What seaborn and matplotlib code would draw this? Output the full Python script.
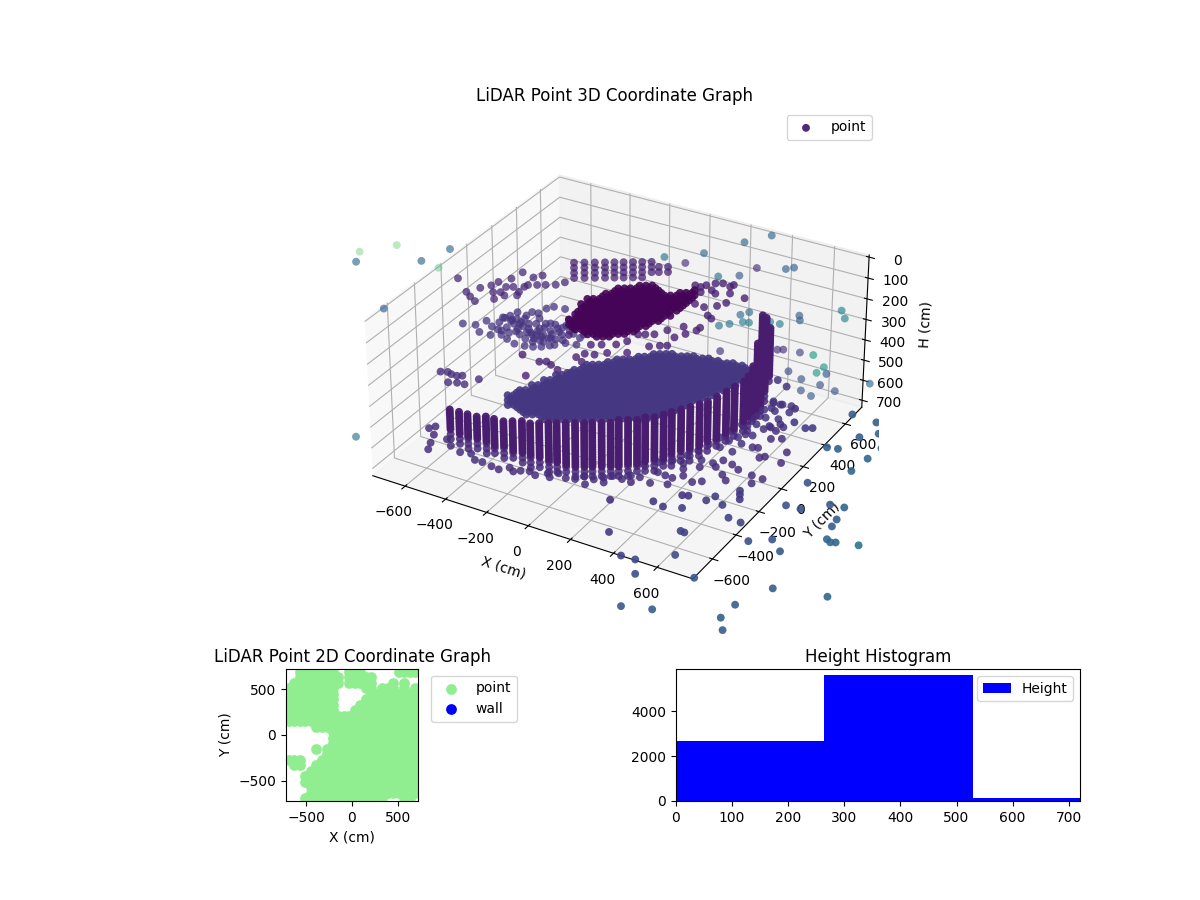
import numpy as np
import matplotlib
matplotlib.use("Agg")
import matplotlib.pyplot as plt
import seaborn as sns

# ── Scan geometry ────────────────────────────────────────────────────────
# points are kept as along-slice distance s, height h and slice offset d (cm)
BEAR_X = 0.855
BEAR_Y = 0.518
DRIFT_X = 0.47
DRIFT_Y = 0.883
LIFT = 0.47

SCAN_LAYERS = [-144, -120, -96, -72, -48, -24, 0, 24, 48, 72, 96, 120, 144, 168, 192, 216,
               240, 264, 288, 312, 336, 360, 384, 408, 432, 456, 480, 504, 528, 552, 576,
               600, 624, 648, 672, 696, 720, 744, 768, 792, 816, 840, 864, 888, 912, 936]
ALT_LAYERS = [-132, -108, -84, -60, -36, -12, 12, 36, 60, 84, 108, 132, 156, 180, 204, 228,
              252, 276, 300, 324, 348, 372, 396, 420, 444, 468, 492, 516, 540, 564, 588,
              612, 636, 660, 684, 708, 732, 756, 780, 804, 828, 852, 876, 900, 924]

# lower wall, one vertical sweep per entry: solid from TOP to MID, thinner foot down to BOT
FRONT_S = [-713, -675, -640, -602, -564, -530, -491, -453, -414, -380, -342, -303, -269,
           -231, -192, -154, -120, -81, -43, -9, 30, 68, 102, 141, 179, 213, 252, 290,
           329, 363, 401, 440, 474, 512, 530, 548, 565, 582, 598, 615]
FRONT_TOP = [550, 560, 569, 579, 588, 593, 603, 607, 612, 617, 617, 622, 622, 622, 622, 622,
             622, 617, 617, 612, 607, 603, 598, 593, 583, 574, 560, 546, 531, 517, 498,
             474, 450, 422, 400, 355, 251, 118, 132, 180]
FRONT_MID = [657, 676, 695, 704, 718, 733, 742, 756, 775, 790, 799, 809, 818, 828, 842, 847,
             847, 847, 842, 842, 837, 832, 823, 813, 804, 790, 775, 761, 747, 728, 709,
             685, 661, 633, 600, 585, 565, 545, 481, 410]
FRONT_BOT = [712, 731, 750, 759, 773, 788, 797, 811, 830, 845, 854, 864, 873, 883, 897, 902,
             902, 902, 897, 897, 892, 887, 878, 868, 859, 845, 830, 816, 802, 783, 764,
             740, 716, 688, 655, 640, 620, 600, 536, 441]

# floor disc
DISC_S = [-483, -457, -431, -406, -380, -354, -329, -303, -278, -252, -226, -201, -175, -149,
          -124, -98, -73, -47, -21, 4, 30, 56, 81, 107, 132, 158, 184, 209, 235, 260, 286,
          312, 337, 363, 389, 414, 440, 465, 491, 517, 542]
DISC_ALT_S = [-470, -444, -418, -393, -367, -341, -316, -290, -265, -239, -213, -188, -162,
              -136, -111, -85, -60, -34, -8, 17, 43, 69, 94, 120, 145, 171, 197, 222, 248,
              273, 299, 325, 350, 376, 402, 427, 453, 478, 504, 530, 555]
DISC_TOP = [498, 488, 479, 470, 455, 446, 432, 422, 408, 398, 389, 379, 370, 360, 356, 351,
            346, 341, 336, 332, 327, 322, 317, 313, 308, 308, 308, 308, 313, 317, 322, 327,
            332, 336, 346, 351, 356, 360, 370, 384, 403]
DISC_BOT = [560, 575, 590, 600, 607, 617, 631, 631, 631, 631, 631, 631, 631, 631, 631, 631,
            631, 631, 631, 631, 631, 631, 631, 631, 622, 617, 607, 593, 583, 569, 560, 546,
            536, 522, 512, 498, 488, 470, 450, 432, 417]

# dark upper patch
PATCH_S = [-222, -196, -171, -145, -120, -94, -68, -43, -17, 9, 34, 60, 85, 111, 137, 162,
           188, 213, 239, 265, 290]
PATCH_ALT_S = [-209, -184, -158, -132, -107, -81, -55, -30, -4, 21, 47, 72, 98, 124, 150, 175,
               200, 226, 252, 277, 300]
PATCH_TOP = [137, 99, 70, 47, 37, 28, 13, 4, -6, -10, -10, -15, -20, -20, -6, 18, 28, 28,
             23, 13, 9]
PATCH_BOT = [180, 194, 208, 227, 237, 237, 232, 227, 223, 218, 208, 199, 189, 175, 161, 147,
             132, 118, 99, 75, 52]

# upper wall strip
STRIP_S = [-201, -158, -115, -73, -34, 4, 43, 81, 120, 150, 188]
STRIP_TOP = [-120, -129, -134, -134, -134, -134, -134, -129, -120, -115, -110]
STRIP_BOT = [-34, -34, -30, -30, -34, -34, -34, -44, -68, -72, -72]

# loose returns by zone
UPPER_S = [-681, -648, -633, -614, -590, -544, -537, -534, -514, -506, -483, -460, -453, -430,
           -407, -413, -392, -369, -354, -331, -319, -277, -239, -438, -491]
UPPER_H = [-53, 11, 33, 55, -7, -18, 14, 46, -34, 14, -10, -49, -10, 14, -10, -78, -18, -53,
           -18, -62, -18, -18, -29, 30, 30]

MID_S = [-666, -613, -567, -598, -552, -506, -483, -453, -498, -468, -437, -376, -316, -285,
         -239, -422, -392, -361, -331, -300, -254, -209, -178, -437, -407, -376, -346, -300,
         -270, -224, -407, -346, -483, -453, -514, -331, -285, -239, -193, -163, -390, -360,
         -320, -280, -430, -380, -300, -345, -250, -400, -350, -440, -465, -520, -545,
         -505, -475, -445, -415, -385, -355, -325, -295, -265, -235, -205, -490, -460, -430,
         -400, -370, -340, -310, -280, -250, -220, -410, -375, -340, -305]
MID_H = [160, 167, 148, 201, 216, 216, 236, 259, 133, 125, 109, 109, 93, 85, 96, 156, 188, 219,
         251, 235, 219, 188, 235, 188, 235, 251, 188, 164, 188, 148, 140, 140, 180, 164, 156,
         219, 267, 259, 267, 219, 165, 165, 165, 170, 215, 215, 200, 245, 245, 125, 115, 140,
         150, 190, 175,
         195, 205, 200, 175, 205, 200, 185, 215, 205, 175, 215, 135, 145, 165, 205, 235, 225,
         235, 240, 185, 200, 270, 275, 275, 270]

LOOSE_S = [-419, -349, -319, -300, -407, -273, -232, -194, -158, -171, -117, -64, 20, 112, 157,
           188, 66, 96, 134, 20, -26, -87, 188, 256, 218, 264, 310, 325, 356, 340, 371, 302,
           447, 447, 508, 432, 394, 325, 386, 348, 371, 417, 462, 302, 325, 386, -224, -132]
LOOSE_H = [311, 346, 346, 362, 413, 387, 402, 326, 310, 349, 315, 307, 307, 278, 275, 275, 220,
           220, 220, 252, 267, 267, 201, 185, 236, 220, 204, 191, 133, 93, 148, 77, -2, 30, 53,
           74, 88, -2, -18, -10, 14, -18, -10, -10, 22, 30, 219, 267]

LEFT_S = [-765, -735, -720, -697, -674, -735, -697, -666, -605]
LEFT_H = [389, 391, 402, 410, 410, 441, 444, 452, 428]

RING_S = [-807, -796, -800, -773, -781, -727, -712, -674, -628, -613, -582, -544, -514, -468,
          -453, -422, -384, -361, -308, -300, -262, -232, -193, -155, -151, -114, -72, -72,
          -33, 5, 43, 43, 81, 124, 157, 188, 198, 218, 264, 264, 302, 343, 333, 401, 444, 496,
          429, 389, 432, 470, 554, 554, 600, 676, 699, 676, 650, 622, 577, 630, 668, 554, 523,
          607, 584]
RING_H = [742, 710, 639, 631, 671, 694, 726, 758, 766, 797, 808, 829, 845, 837, 856, 853, 856,
          876, 868, 887, 868, 892, 897, 884, 924, 900, 892, 916, 884, 900, 884, 916, 892, 921,
          868, 884, 929, 897, 887, 853, 919, 916, 845, 845, 913, 860, 884, 826, 813, 834, 889,
          929, 908, 829, 777, 710, 671, 647, 753, 710, 639, 750, 686, 797, 802]

BAND_S = [417, 455, 493, 531, 569, 607, 645, 676, 417, 462, 508, 554, 600, 638, 325, 370, 340,
          279, 218, 157, 96, 264, 661, 706, 683, 630, 470, 508, 554, 600, 638, 668, 714, 630,
          691, 653]
BAND_H = [758, 726, 710, 678, 647, 615, 583, 552, 710, 678, 647, 615, 576, 544, 773, 742, 821,
          797, 821, 829, 837, 837, 623, 591, 663, 663, 781, 742, 702, 671, 536, 552, 560, 568,
          465, 433]

GREEN_S = [-1095, -940, -770]
GREEN_H = [-176, -205, -97]
GREEN_C = [0.75, 0.75, 0.7]

FAR_S = [-1000, -835, -715, -1105, -1145, 172, 336, 503, 615, 259, 557, 678,
         712, 397, 485, 493, 530, 404, 448, 504, 530, 619, 660, 741, 744, 918, 933, 411, 653,
         678, 749, 806, 853, 823, 865, 703, 759, 840, 759, 904, 803, 1052]
FAR_H = [90, -133, -187, -132, 714, -140, -156, -205, -235, -111, -84, -78, -84,
         -46, -49, 137, 125, 188, 180, 172, 175, 172, 183, 144, 167, 122, 160, 311, 307, 307,
         322, 335, 395, 422, 428, 413, 452, 482, 508, 513, 536, 478]
FAR_C = [0.3, 0.33, 0.33, 0.35, 0.38, 0.38, 0.35, 0.33, 0.33, 0.12, 0.13, 0.3,
         0.3, 0.38, 0.28, 0.35, 0.35, 0.38, 0.4, 0.42, 0.42, 0.42, 0.42, 0.3, 0.3, 0.45, 0.45,
         0.13, 0.13, 0.13, 0.2, 0.55, 0.55, 0.55, 0.25, 0.22, 0.25, 0.25, 0.25, 0.27, 0.28, 0.33]

NEAR_S = [505, 505, 505, 261, 287, 139, 180, 261, 363, 401, 432, -44, -49, 256, 272, 2, 63, 63,
          234, 317, 459, 511, 546, 648, 683, 657, 496, 435, 444, 2, 137, 895, 1019, 920, 897,
          882, 901, 920, 950, 889, 764, 702, 790, 1039, 973, 866, 912, 1095, 1080, 1000, 1068,
          966, 725, 772, 802, 726]
NEAR_H = [960, 1003, 979, 979, 982, 1008, 1035, 1043, 1006, 987, 1030, 998, 1160, 1159, 1167,
          1281, 1302, 1376, 1281, 1400, 1095, 1120, 1215, 1208, 1269, 1460, 1543, 1610, 1676,
          1543, 1562, 1507, 1243, 1227, 1226, 1210, 1145, 1110, 1050, 1035, 1055, 1036, 924,
          808, 868, 750, 758, 758, 686, 702, 631, 591, 626, 655, 655, 560]
NEAR_C = [0.17, 0.17, 0.17, 0.15, 0.15, 0.17, 0.17, 0.18, 0.18, 0.18, 0.19, 0.14, 0.17, 0.2, 0.2,
          0.2, 0.22, 0.24, 0.23, 0.27, 0.2, 0.2, 0.24, 0.25, 0.27, 0.3, 0.3, 0.3, 0.3, 0.28, 0.3,
          0.33, 0.38, 0.33, 0.33, 0.33, 0.3, 0.3, 0.32, 0.28, 0.25, 0.25, 0.26, 0.33, 0.33, 0.3,
          0.3, 0.33, 0.33, 0.3, 0.3, 0.3, 0.18, 0.18, 0.18, 0.15]

# ── 2D map and histogram ─────────────────────────────────────────────────
MAP_COLS = [-690, -630, -570, -510, -450, -390, -330, -270, -210, -150, -90, -30,
            30, 90, 150, 210, 270, 330, 390, 450, 510, 570, 630, 690]
MAP_ROWS = [690, 630, 570, 510, 450, 390, 330, 270, 210, 150, 90, 30,
            -30, -90, -150, -210, -270, -330, -390, -450, -510, -570, -630, -690]
MAP_MASK = [
    "..#######..###......####",
    "..########.#####........",
    ".#########.#####...#.#..",
    "#########.....##.###.#.#",
    "#########......#########",
    "#########.....##########",
    "#########....###########",
    "#########...############",
    "########################",
    "########################",
    ".....###################",
    "........################",
    "........################",
    "........################",
    ".....#.#################",
    ".......#################",
    "###...##################",
    ".##..###################",
    "....####################",
    "...#####################",
    "...#####################",
    "....#################.##",
    "....##################.#",
    "...###############...##.",
]

BIN_EDGES = [0, 264, 530, 795]
BIN_COUNTS = [2670, 5610, 130]


def sweep(col_s, tops, bots, layers=SCAN_LAYERS):
    """Return s and h of the scan layers each vertical sweep covers."""
    out_s, out_h = [], []
    for s, top, bot in zip(col_s, tops, bots):
        for h in layers:
            if top <= h <= bot:
                out_s.append(s)
                out_h.append(h)
    return out_s, out_h


xs, ys, hs, cs, alphas = [], [], [], [], []


def add_points(s, h, d, c, alpha):
    s = np.array(s, dtype=float)
    h = np.array(h, dtype=float)
    xs.append(BEAR_X * s - DRIFT_X * d)
    ys.append(BEAR_Y * s + DRIFT_Y * d)
    hs.append(h + LIFT * d)
    cs.append(np.full(len(s), c) if np.isscalar(c) else np.array(c))
    alphas.append(np.full(len(s), alpha))


add_points(*sweep(FRONT_S, FRONT_TOP, FRONT_MID), -150, 0.08, 0.95)
add_points(*sweep(FRONT_S, FRONT_TOP, FRONT_MID, ALT_LAYERS), -150, 0.08, 0.95)
add_points(*sweep(FRONT_S, FRONT_MID, FRONT_BOT), -150, 0.12, 0.85)
add_points(*sweep(DISC_S, DISC_TOP, DISC_BOT), 0, 0.16, 0.9)
add_points(*sweep(DISC_ALT_S, DISC_TOP, DISC_BOT, ALT_LAYERS), 0, 0.16, 0.9)
add_points(*sweep(PATCH_S, PATCH_TOP, PATCH_BOT), 20, 0.01, 0.9)
add_points(*sweep(PATCH_ALT_S, PATCH_TOP, PATCH_BOT, ALT_LAYERS), 20, 0.01, 0.9)
add_points(*sweep(STRIP_S, STRIP_TOP, STRIP_BOT), 60, 0.1, 0.75)
add_points(UPPER_S, UPPER_H, 50, 0.11, 0.75)
add_points(MID_S, MID_H, 40, 0.15, 0.75)
add_points(LOOSE_S, LOOSE_H, 30, 0.09, 0.8)
add_points(LEFT_S, LEFT_H, 30, 0.13, 0.8)
add_points(RING_S, RING_H, -170, 0.13, 0.85)
add_points(BAND_S, BAND_H, -100, 0.15, 0.85)
add_points(FAR_S, FAR_H, 100, FAR_C, 0.65)
add_points(GREEN_S, GREEN_H, 150, GREEN_C, 0.4)
add_points(NEAR_S, NEAR_H, -200, NEAR_C, 0.9)

point_colors = plt.get_cmap("viridis")(np.concatenate(cs))
point_colors[:, 3] = np.concatenate(alphas)

fig = plt.figure(figsize=(12, 9), dpi=100)
ax3d = fig.add_axes([150 / 1200, 1 - 636 / 900, 930 / 1200, 528 / 900], projection="3d")
ax3d.set_box_aspect((4, 4, 1.96))
ax3d.scatter(np.concatenate(xs), np.concatenate(ys), np.concatenate(hs), c=point_colors,
             depthshade=False, s=32, linewidths=0, label="point")
ax3d.set_xlim(-762, 762)
ax3d.set_ylim(-762, 762)
ax3d.set_zlim(735, -10)
ax3d.set_xticks([-600, -400, -200, 0, 200, 400, 600])
ax3d.set_yticks([-600, -400, -200, 0, 200, 400, 600])
ax3d.set_zticks([0, 100, 200, 300, 400, 500, 600, 700])
ax3d.set_xlabel("X (cm)")
ax3d.set_ylabel("Y (cm)")
ax3d.set_zlabel("H (cm)")
ax3d.set_title("LiDAR Point 3D Coordinate Graph", pad=5)
ax3d.legend()

ax2d = fig.add_axes([286 / 1200, 1 - 801 / 900, 132 / 1200, 132 / 900])
mx, my = [], []
for row, line in zip(MAP_ROWS, MAP_MASK):
    for col, cell in zip(MAP_COLS, line):
        if cell == "#":
            mx.append(col)
            my.append(row)
sns.scatterplot(x=mx, y=my, ax=ax2d, color="lightgreen", s=60, linewidth=0, label="point")
ax2d.scatter([], [], color="blue", label="wall", s=60, linewidth=0)
ax2d.set_xlim(-720, 720)
ax2d.set_ylim(-720, 720)
ax2d.set_xlabel("X (cm)")
ax2d.set_ylabel("Y (cm)")
ax2d.set_title("LiDAR Point 2D Coordinate Graph", pad=5)
ax2d.legend(bbox_to_anchor=(1.1, 0.95), loc="upper left", borderaxespad=0)

ax_hist = fig.add_axes([676 / 1200, 1 - 801 / 900, 404 / 1200, 132 / 900])
mids = [(a + b) / 2 for a, b in zip(BIN_EDGES[:-1], BIN_EDGES[1:])]
sns.histplot(x=mids, weights=BIN_COUNTS, bins=BIN_EDGES, ax=ax_hist, color="blue", alpha=1,
             linewidth=0, label="Height")
ax_hist.set_xlim(0, 720)
ax_hist.set_ylim(0, 5890)
ax_hist.set_ylabel("")
ax_hist.set_title("Height Histogram", pad=5)
ax_hist.legend(loc="upper right")

fig.savefig("out.png", dpi=100)
